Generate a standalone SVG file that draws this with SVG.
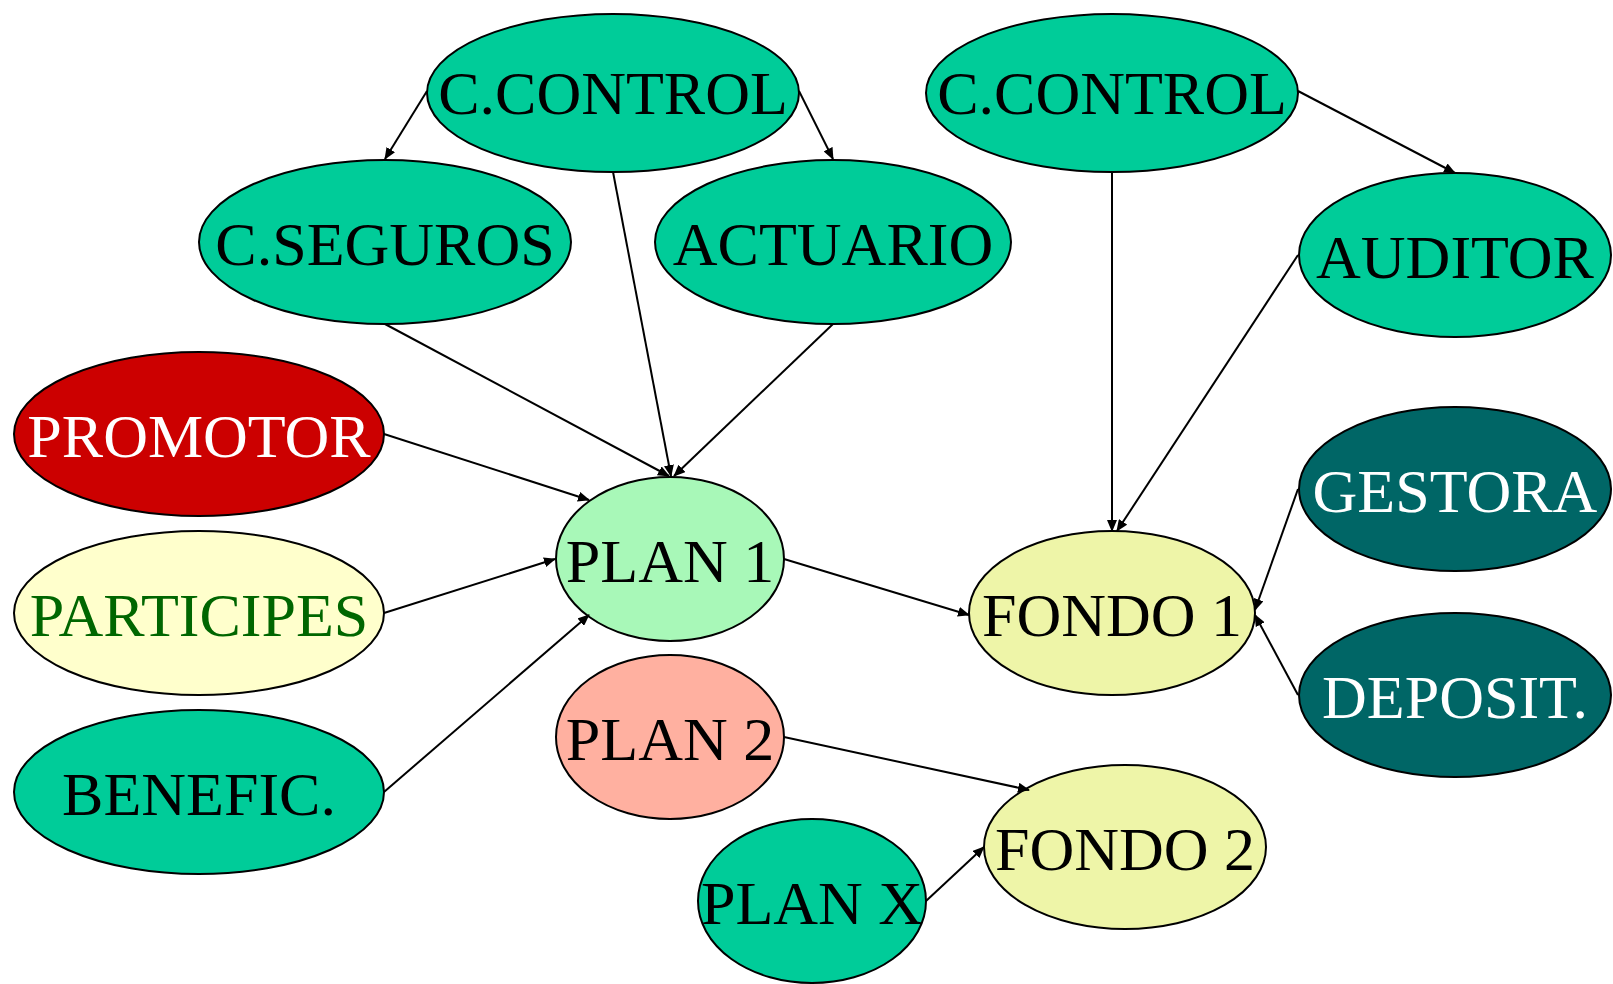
<svg xmlns="http://www.w3.org/2000/svg" width="1613" height="984" viewBox="0 0 1613 984">
<defs>
<marker id="arr" viewBox="0 0 12 10" refX="11" refY="5" markerWidth="12" markerHeight="10" markerUnits="userSpaceOnUse" orient="auto">
<path d="M0,0 L12,5 L0,10 Z" fill="#000"/>
</marker>
<style>
ellipse{stroke:#000;stroke-width:2}
text{font-family:"Liberation Serif","Times New Roman",serif;font-size:62px;text-anchor:middle}
.teal{fill:#00CC99}
.dark{fill:#006666}
.red{fill:#CC0000}
.cream{fill:#FFFFCC}
.plan1{fill:#A8F8B8}
.plan2{fill:#FFB0A0}
.fondo{fill:#EEF5A8}
.bk{fill:#000}
.wh{fill:#fff}
.gr{fill:#006600}
#connectors line{stroke:#000;stroke-width:2;marker-end:url(#arr)}
</style>
</defs>
<rect width="1613" height="984" fill="#fff"/>
<g id="n-ccontrol1"><ellipse class="teal" cx="613" cy="93" rx="186" ry="79"/><text class="bk" x="613" y="114">C.CONTROL</text></g>
<g id="n-cseguros"><ellipse class="teal" cx="385" cy="242" rx="186" ry="82"/><text class="bk" x="385" y="265">C.SEGUROS</text></g>
<g id="n-actuario"><ellipse class="teal" cx="833" cy="242" rx="178" ry="82"/><text class="bk" x="833" y="265">ACTUARIO</text></g>
<g id="n-ccontrol2"><ellipse class="teal" cx="1112" cy="93" rx="186" ry="79"/><text class="bk" x="1112" y="114">C.CONTROL</text></g>
<g id="n-auditor"><ellipse class="teal" cx="1455" cy="255" rx="156" ry="82"/><text class="bk" x="1455" y="278">AUDITOR</text></g>
<g id="n-promotor"><ellipse class="red" cx="199" cy="434" rx="185" ry="82"/><text class="wh" x="199" y="457">PROMOTOR</text></g>
<g id="n-participes"><ellipse class="cream" cx="199" cy="613" rx="185" ry="82"/><text class="gr" x="199" y="636">PARTICIPES</text></g>
<g id="n-benefic"><ellipse class="teal" cx="199" cy="792" rx="185" ry="82"/><text class="bk" x="199" y="815">BENEFIC.</text></g>
<g id="n-plan1"><ellipse class="plan1" cx="670" cy="559" rx="114" ry="82"/><text class="bk" x="670" y="582">PLAN 1</text></g>
<g id="n-plan2"><ellipse class="plan2" cx="670" cy="737" rx="114" ry="82"/><text class="bk" x="670" y="760">PLAN 2</text></g>
<g id="n-planx"><ellipse class="teal" cx="812" cy="901" rx="114" ry="82"/><text class="bk" x="812" y="924">PLAN X</text></g>
<g id="n-fondo1"><ellipse class="fondo" cx="1112" cy="613" rx="143" ry="82"/><text class="bk" x="1112" y="636">FONDO 1</text></g>
<g id="n-fondo2"><ellipse class="fondo" cx="1125" cy="847" rx="141" ry="82"/><text class="bk" x="1125" y="870">FONDO 2</text></g>
<g id="n-gestora"><ellipse class="dark" cx="1455" cy="489" rx="156" ry="82"/><text class="wh" x="1455" y="512">GESTORA</text></g>
<g id="n-deposit"><ellipse class="dark" cx="1455" cy="695" rx="156" ry="82"/><text class="wh" x="1455" y="718">DEPOSIT.</text></g>
<g id="connectors">
<line x1="427" y1="91" x2="385" y2="159"/>
<line x1="799" y1="91" x2="833" y2="159"/>
<line x1="613" y1="172" x2="671" y2="476"/>
<line x1="385" y1="324" x2="669" y2="476"/>
<line x1="833" y1="324" x2="674" y2="476"/>
<line x1="384" y1="434" x2="589" y2="500"/>
<line x1="384" y1="613" x2="555" y2="559"/>
<line x1="384" y1="792" x2="589" y2="615"/>
<line x1="784" y1="559" x2="969" y2="615"/>
<line x1="1112" y1="172" x2="1112" y2="531"/>
<line x1="1298" y1="91" x2="1455" y2="173"/>
<line x1="1298" y1="255" x2="1117" y2="531"/>
<line x1="1298" y1="489" x2="1255" y2="610"/>
<line x1="1298" y1="695" x2="1255" y2="615"/>
<line x1="784" y1="737" x2="1029" y2="790"/>
<line x1="926" y1="901" x2="984" y2="847"/>
</g>
</svg>
